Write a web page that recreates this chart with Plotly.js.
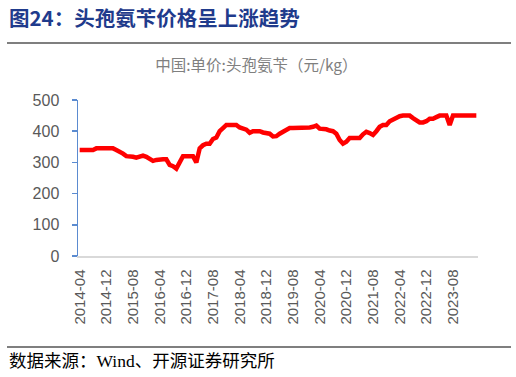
<!DOCTYPE html>
<html>
<head>
<meta charset="utf-8">
<script src="https://cdn.plot.ly/plotly-3.0.1.min.js"></script>
<style>
html,body{margin:0;padding:0;background:#fff;}
#chart{width:516px;height:377px;}
</style>
</head>
<body>
<div id="chart"></div>
<script>
// Monthly observations, 2014-04 .. 2024-03
const months = [
  "2014-04","2014-05","2014-06","2014-07","2014-08","2014-09","2014-10","2014-11","2014-12",
  "2015-01","2015-02","2015-03","2015-04","2015-05","2015-06","2015-07","2015-08","2015-09","2015-10","2015-11","2015-12",
  "2016-01","2016-02","2016-03","2016-04","2016-05","2016-06","2016-07","2016-08","2016-09","2016-10","2016-11","2016-12",
  "2017-01","2017-02","2017-03","2017-04","2017-05","2017-06","2017-07","2017-08","2017-09","2017-10","2017-11","2017-12",
  "2018-01","2018-02","2018-03","2018-04","2018-05","2018-06","2018-07","2018-08","2018-09","2018-10","2018-11","2018-12",
  "2019-01","2019-02","2019-03","2019-04","2019-05","2019-06","2019-07","2019-08","2019-09","2019-10","2019-11","2019-12",
  "2020-01","2020-02","2020-03","2020-04","2020-05","2020-06","2020-07","2020-08","2020-09","2020-10","2020-11","2020-12",
  "2021-01","2021-02","2021-03","2021-04","2021-05","2021-06","2021-07","2021-08","2021-09","2021-10","2021-11","2021-12",
  "2022-01","2022-02","2022-03","2022-04","2022-05","2022-06","2022-07","2022-08","2022-09","2022-10","2022-11","2022-12",
  "2023-01","2023-02","2023-03","2023-04","2023-05","2023-06","2023-07","2023-08","2023-09","2023-10","2023-11","2023-12",
  "2024-01","2024-02","2024-03"
];
// 中国:单价:头孢氨苄（元/kg）
const price = [
  340,340,340,340,340,345,345,345,345,
  345,345,340,335,328,320,320,318,315,320,322,318,
  312,305,308,310,310,310,292,288,280,300,320,320,
  320,320,300,345,355,360,360,375,380,400,410,420,
  420,420,420,412,408,405,395,400,400,400,396,394,
  392,383,384,392,398,402,410,410,410,410,410,410,
  412,414,418,408,408,406,402,400,392,372,360,366,
  378,378,378,378,390,398,394,388,400,414,420,420,
  432,438,440,448,450,450,450,442,434,428,428,432,
  440,440,445,450,450,450,420,450,450,450,450,450,
  450,450,450
];
const tickLabels = ["2014-04","2014-12","2015-08","2016-04","2016-12","2017-08","2018-04","2018-12","2019-08","2020-04","2020-12","2021-08","2022-04","2022-12","2023-08"];
const yTicks = [0,100,200,300,400,500];

const heading = "图24：头孢氨苄价格呈上涨趋势";
const chartTitle = "中国:单价:头孢氨苄（元/kg）";
const source = "数据来源：Wind、开源证券研究所";

const trace = {
  x: months, y: price, type: "scatter", mode: "lines",
  line: {color: "#ff0000", width: 4.5, shape: "linear"},
  hoverinfo: "x+y"
};

const layout = {
  width: 516, height: 377,
  margin: {l: 78, r: 38, t: 100, b: 121},
  paper_bgcolor: "#ffffff", plot_bgcolor: "#ffffff",
  showlegend: false,
  title: {
    text: chartTitle,
    x: 0.497, xanchor: "center", y: 1 - 66/377, yanchor: "middle",
    font: {family: "Noto Sans CJK SC, sans-serif", size: 15.5, color: "#7f7f7f"}
  },
  xaxis: {
    type: "category",
    range: [-0.5, months.length - 0.5],
    tickmode: "array", tickvals: tickLabels, ticktext: tickLabels,
    tickangle: -90,
    ticklabelstandoff: 6,
    tickfont: {family: "Liberation Sans, Arial, sans-serif", size: 15, color: "#595959"},
    showline: true, linecolor: "#d9d9d9", linewidth: 1.5,
    showgrid: false, zeroline: false, ticks: "", fixedrange: true
  },
  yaxis: {
    range: [0, 500],
    tickmode: "array", tickvals: yTicks,
    ticklabelstandoff: 9,
    tickfont: {family: "Liberation Sans, Arial, sans-serif", size: 16, color: "#595959"},
    showline: true, linecolor: "#5b8bd0", linewidth: 1.5,
    ticks: "outside", ticklen: 5, tickcolor: "#5b8bd0", tickwidth: 1.5,
    showgrid: false, zeroline: false, fixedrange: true
  },
  annotations: [
    {text: "<b>" + heading + "</b>", xref: "paper", yref: "paper",
     x: (7 - 78)/400, y: (256 - 17)/156, xanchor: "left", yanchor: "middle", showarrow: false,
     font: {family: "Noto Sans CJK SC, sans-serif", size: 20.5, color: "#1f3b8c"}},
    {text: source, xref: "paper", yref: "paper",
     x: (7 - 78)/400, y: (256 - 361)/156, xanchor: "left", yanchor: "middle", showarrow: false,
     font: {family: "Liberation Serif, Noto Sans CJK SC, serif", size: 17.5, color: "#000000"}}
  ],
  shapes: [
    {type: "line", xref: "paper", yref: "paper", x0: (7 - 78)/400, x1: (511 - 78)/400,
     y0: (256 - 43)/156, y1: (256 - 43)/156, line: {color: "#7f7f7f", width: 2}},
    {type: "line", xref: "paper", yref: "paper", x0: (7 - 78)/400, x1: (511 - 78)/400,
     y0: (256 - 347)/156, y1: (256 - 347)/156, line: {color: "#555555", width: 1.5}}
  ]
};

Plotly.newPlot("chart", [trace], layout, {displayModeBar: false, staticPlot: true});
</script>
</body>
</html>
